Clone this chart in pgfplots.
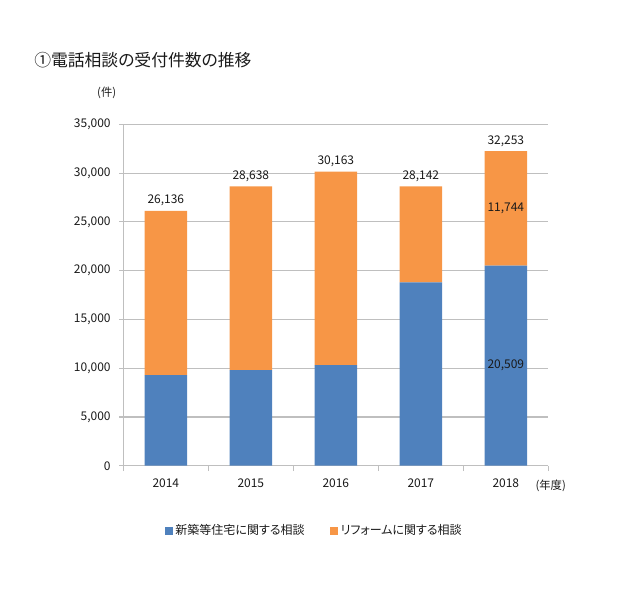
\documentclass[border=0pt]{standalone}
\usepackage{fontspec}
\setmainfont[RawFeature=+palt]{Noto Sans CJK JP}
\usepackage{pgfplots}
\usepackage{pgfplotstable}
\pgfplotsset{compat=1.18}
\definecolor{sblue}{HTML}{4F81BD}
\definecolor{sorange}{HTML}{F79646}
\definecolor{gridgray}{HTML}{BFBFBF}
\definecolor{txt}{HTML}{1A1A1A}
\pgfplotstableread{
x blue orange
0 9300 16836
1 9811 18827
2 10324 19839
3 18800 9838
4 20509 11744
}\datatab
\tikzset{lab/.style={font=\fontsize{9}{11}\selectfont, text=txt}}
\begin{document}
\begin{tikzpicture}
\path[use as bounding box] (0,0) rectangle (480pt,450pt);
\node[anchor=west,inner sep=0pt,text=txt,font=\fontsize{12.6}{14}\selectfont] at (25.5pt,405pt) {①電話相談の受付件数の推移};
\node[text=txt,font=\fontsize{8.5}{10}\selectfont] at (80pt,380pt) {(件)};
\node[text=txt,font=\fontsize{8.5}{10}\selectfont] at (413pt,86pt) {(年度)};
\begin{axis}[
  at={(92.5pt,100.7pt)}, anchor=south west,
  scale only axis, width=318.75pt, height=256pt,
  ybar stacked, bar width=0.5,
  xmin=-0.5, xmax=4.5, ymin=0, ymax=35000,
  xtick={0,1,2,3,4}, xticklabels={2014,2015,2016,2017,2018},
  minor xtick={-0.5,0.5,1.5,2.5,3.5,4.5},
  ytick={0,5000,...,35000},
  ymajorgrids, grid style={gridgray, line width=0.8pt},
  axis x line*=bottom, axis y line*=left,
  axis line style={gridgray, line width=0.8pt, -},
  tick align=outside, major tick length=3pt, minor tick length=4pt,
  tick style={gridgray, line width=0.8pt},
  major x tick style={draw=none},
  scaled y ticks=false,
  /pgf/number format/fixed,
  /pgf/number format/1000 sep={,},
  /pgf/number format/assume math mode=true,
  ticklabel style={font=\fontsize{9}{11}\selectfont, text=txt},
  yticklabel style={xshift=-3pt},
  xticklabel style={yshift=-3.5pt},
  legend style={at={(0.45,-0.19)}, anchor=center, draw=none, fill=none,
    legend columns=2, font=\fontsize{9}{11}\selectfont, text=txt,
    /tikz/every even column/.append style={column sep=17pt}},
  legend image code/.code={\fill[#1] (0pt,-3pt) rectangle (6pt,3pt);},
]
\addplot[fill=sblue, draw=none] table[x=x,y=blue] {\datatab};
\addlegendentry{新築等住宅に関する相談}
\addplot[fill=sorange, draw=none] table[x=x,y=orange] {\datatab};
\addlegendentry{リフォームに関する相談}
\node[lab,above] at (axis cs:0,26136) {26,136};
\node[lab,above] at (axis cs:1,28638) {28,638};
\node[lab,above] at (axis cs:2,30163) {30,163};
\node[lab,above] at (axis cs:3,28638) {28,142};
\node[lab,above] at (axis cs:4,32253) {32,253};
\coordinate (o18) at (axis cs:4,26381);
\coordinate (b18) at (axis cs:4,10254);
\end{axis}
\node[lab] at (o18) {11,744};
\node[lab] at (b18) {20,509};
\end{tikzpicture}
\end{document}
